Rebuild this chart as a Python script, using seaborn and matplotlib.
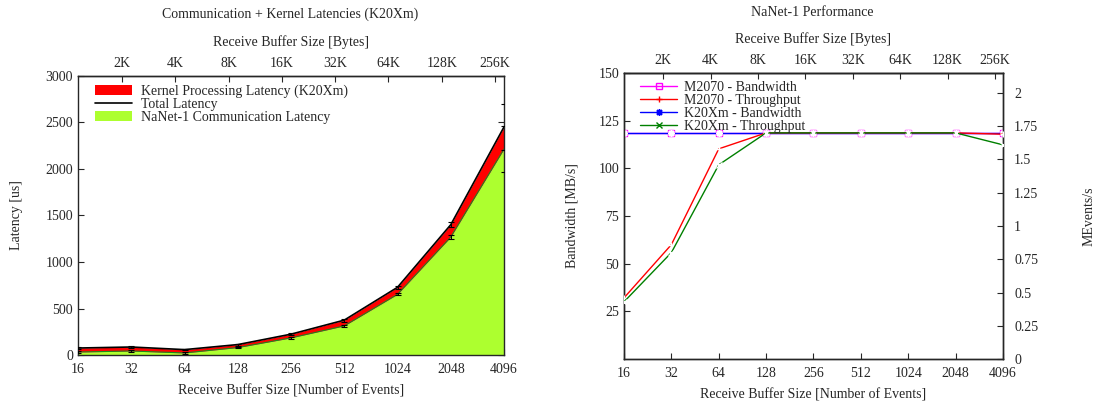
import numpy as np
import pandas as pd
import matplotlib
matplotlib.use("Agg")
import matplotlib.pyplot as plt
import seaborn as sns
from matplotlib.patches import Patch
from matplotlib.lines import Line2D

# ---------------- data ----------------
events = [16, 32, 64, 128, 256, 512, 1024, 2048, 4096]
event_labels = ["16", "32", "64", "128", "256", "512", "1024", "2048", "4096"]
bytes_ticks = [2048, 4096, 8192, 16384, 32768, 65536, 131072, 262144]
bytes_labels = ["2K", "4K", "8K", "16K", "32K", "64K", "128K", "256K"]
bytes_per_event = 72

total_latency = [75, 86, 58, 112, 224, 375, 728, 1401, 2452]
total_err = [10, 12, 8, 10, 12, 15, 15, 25, 245]
comm_latency = [32, 43, 22, 80, 184, 313, 652, 1268, 2214]
comm_err = [8, 8, 8, 8, 10, 10, 12, 20, 245]

m2070_bw = [118.4, 118.4, 118.4, 118.4, 118.4, 118.4, 118.4, 118.4, 118.4]
m2070_tp = [0.46, 0.86, 1.58, 1.70, 1.70, 1.70, 1.70, 1.70, 1.69]
k20_bw = [118.4, 118.4, 118.4, 118.4, 118.4, 118.4, 118.4, 118.4, 118.4]
k20_tp = [0.43, 0.80, 1.46, 1.70, 1.70, 1.70, 1.70, 1.70, 1.61]

sns.set_style("ticks")
plt.rcParams['font.family'] = ['Liberation Serif', 'DejaVu Serif']
plt.rcParams['font.size'] = 10
plt.rcParams['xtick.direction'] = 'in'
plt.rcParams['ytick.direction'] = 'in'
plt.rcParams['axes.linewidth'] = 1.0

fig = plt.figure(figsize=(10.94, 4.01), dpi=100)

def style_x(ax):
    ax.set_xscale('log', base=2)
    ax.set_xlim(16, 4096)
    ax.set_xticks(events)
    ax.set_xticklabels(event_labels)
    ax.minorticks_off()
    ax.tick_params(axis='x', which='both', top=False, length=4, pad=6)
    sec = ax.secondary_xaxis('top', functions=(lambda x: x * bytes_per_event,
                                               lambda b: b / bytes_per_event))
    sec.set_xticks(bytes_ticks)
    sec.set_xticklabels(bytes_labels)
    sec.minorticks_off()
    sec.tick_params(axis='x', which='both', direction='in', length=4, pad=4)
    sec.set_xlabel("Receive Buffer Size [Bytes]", labelpad=8)
    ax.set_xlabel("Receive Buffer Size [Number of Events]", labelpad=6)
    return sec

# ---------------- left chart ----------------
ax1 = fig.add_axes([0.0713, 0.1147, 0.3894, 0.6958])
df = pd.DataFrame({"events": events, "total": total_latency, "comm": comm_latency})
ax1.fill_between(df["events"], 0, df["comm"], color="#adff2f", zorder=1, lw=0)
ax1.fill_between(df["events"], df["comm"], df["total"], color="#ff0000", zorder=2, lw=0)
sns.lineplot(data=df, x="events", y="comm", ax=ax1, color="#1a8a1a", lw=0.8, zorder=3)
sns.lineplot(data=df, x="events", y="total", ax=ax1, color="black", lw=1.2, zorder=4)
ax1.errorbar(events, total_latency, yerr=total_err, fmt='none', ecolor='black',
             elinewidth=0.7, capsize=2, capthick=0.8, zorder=5)
ax1.errorbar(events, comm_latency, yerr=comm_err, fmt='none', ecolor='black',
             elinewidth=0.7, capsize=2, capthick=0.8, zorder=5)
ax1.set_ylim(0, 3000)
ax1.set_yticks(np.arange(0, 3001, 500))
ax1.tick_params(axis='y', right=True, length=4)
ax1.set_ylabel("Latency [us]", labelpad=16)
style_x(ax1)
h1 = [Patch(facecolor="#ff0000", edgecolor="none"),
      Line2D([], [], color="black", lw=1.2),
      Patch(facecolor="#adff2f", edgecolor="none")]
ax1.legend(h1, ["Kernel Processing Latency (K20Xm)", "Total Latency",
                "NaNet-1 Communication Latency"],
           loc="upper left", frameon=False, handlelength=2.7, handleheight=0.7,
           labelspacing=0.0, borderaxespad=0.2, handletextpad=0.6,
           bbox_to_anchor=(0.02, 1.0))

# ---------------- right chart ----------------
ax2 = fig.add_axes([0.5704, 0.1047, 0.3464, 0.7132])
style_x(ax2)
ax3 = ax2.twinx()
sns.lineplot(x=events, y=m2070_bw, ax=ax2, color="#ff00ff", marker="s",
             markerfacecolor="none", markeredgecolor="#ff00ff", markersize=5,
             markeredgewidth=1.0, lw=1.0, zorder=3)
sns.lineplot(x=events, y=k20_bw, ax=ax2, color="#0000ff", marker=(8, 2, 0),
             markersize=5, markeredgewidth=1.2, lw=1.0, zorder=4)
sns.lineplot(x=events, y=m2070_tp, ax=ax3, color="#ff0000", marker="+",
             markersize=5, markeredgewidth=1.0, lw=1.0, zorder=3)
sns.lineplot(x=events, y=k20_tp, ax=ax3, color="#008000", marker="x",
             markersize=4, markeredgewidth=1.0, lw=1.0, zorder=3)
ax2.set_xlim(16, 4096)
ax2.set_ylim(0, 150)
ax2.set_yticks([25, 50, 75, 100, 125, 150])
ax2.tick_params(axis='y', length=4)
ax2.set_ylabel("Bandwidth [MB/s]", labelpad=14)
ax3.set_ylim(0, 2.15)
ax3.set_yticks([0, 0.25, 0.5, 0.75, 1, 1.25, 1.5, 1.75, 2])
ax3.set_yticklabels(["0", "0.25", "0.5", "0.75", "1", "1.25", "1.5", "1.75", "2"])
ax3.tick_params(axis='y', length=4, direction='in', pad=8)
ax3.set_ylabel("MEvents/s", labelpad=32)
h2 = [Line2D([], [], color="#ff00ff", marker="s", markerfacecolor="none", markersize=5, lw=1.0),
      Line2D([], [], color="#ff0000", marker="+", markersize=5, lw=1.0),
      Line2D([], [], color="#0000ff", marker=(8, 2, 0), markersize=5, lw=1.0),
      Line2D([], [], color="#008000", marker="x", markersize=4, lw=1.0)]
ax3.legend(h2, ["M2070 - Bandwidth", "M2070 - Throughput", "K20Xm - Bandwidth",
                "K20Xm - Throughput"],
           loc="upper left", frameon=False, handlelength=2.7, labelspacing=0.0,
           borderaxespad=0.2, handletextpad=0.5, bbox_to_anchor=(0.02, 1.0))

fig.text(290 / 1094, 1 - 14 / 401, "Communication + Kernel Latencies (K20Xm)",
         ha="center", va="center", fontsize=10)
fig.text(812 / 1094, 1 - 13 / 401, "NaNet-1 Performance",
         ha="center", va="center", fontsize=10)

fig.savefig("out.png", dpi=100)
